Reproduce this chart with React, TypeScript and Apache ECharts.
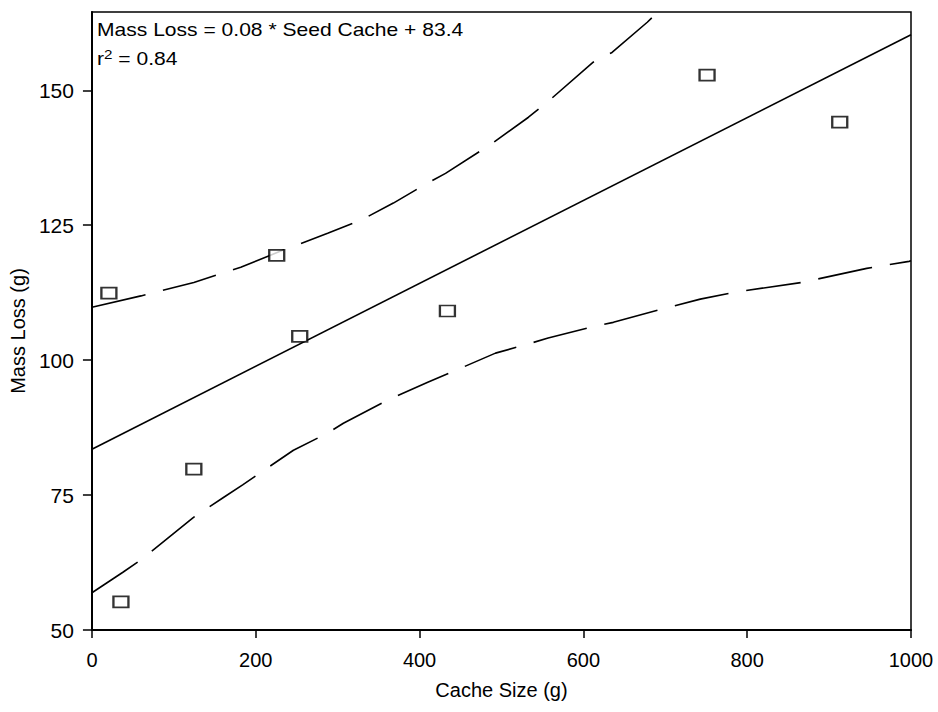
import React, { useEffect, useRef } from "react";
import * as echarts from "echarts";

const cacheSize = [20.7, 35.4, 124.4, 225.6, 253.7, 434, 751, 913];
const massLoss = [112.4, 55.2, 79.8, 119.4, 104.4, 109.1, 152.8, 144.1];

const fitLine: [number, number][] = [
  [0, 83.5],
  [1000, 160.3],
];

const upperBand: [number, number][] = [
  [0, 109.8], [59.8, 111.9], [124.4, 114.4], [181.7, 117.2], [230.5, 120.2],
  [287.8, 123.5], [328, 125.9], [368, 129.1], [409.8, 132.8], [431.7, 134.6],
  [489, 140.2], [533, 145], [556, 147.8], [612, 155.2], [635, 157],
  [678, 162.6], [700, 165.8],
];

const lowerBand: [number, number][] = [
  [0, 56.9], [37.8, 60.7], [59.8, 63], [124.4, 70.9], [161, 74.6], [184, 76.9],
  [246, 83.3], [288, 86.5], [307, 88.3], [361, 92.6], [410, 95.9], [450, 98.5],
  [492.7, 101.3], [535, 103.1], [557, 104.1], [614.6, 106.3], [636.6, 107],
  [694, 109.4], [742.7, 111.3], [785, 112.6], [867, 114.4], [946, 117],
  [997.6, 118.3], [1000, 118.4],
];

const xTicks = [0, 200, 400, 600, 800, 1000];
const yTicks = [50, 75, 100, 125, 150];

const FONT = "Liberation Sans, Arial, sans-serif";

export default function App() {
  const ref = useRef<HTMLDivElement>(null);
  useEffect(() => {
    if (!ref.current) return;
    const chart = echarts.init(ref.current, null, { renderer: "svg" });
    const dash = { type: [55, 18] as any, color: "#000", width: 1.6 };
    chart.setOption({
      animation: false,
      backgroundColor: "#fff",
      grid: {
        left: 91,
        right: 27,
        top: 12,
        bottom: 82,
        show: true,
        borderColor: "#000",
        borderWidth: 1.5,
        backgroundColor: "transparent",
      },
      xAxis: {
        type: "value",
        min: 0,
        max: 1000,
        interval: 200,
        name: "Cache Size (g)",
        nameLocation: "middle",
        nameGap: 50,
        nameTextStyle: { fontFamily: FONT, fontSize: 20, color: "#000" },
        axisLine: { show: true, lineStyle: { color: "#000", width: 2 } },
        axisTick: { show: true, length: 8, lineStyle: { color: "#000", width: 1.5 }, customValues: xTicks },
        axisLabel: {
          fontFamily: FONT,
          fontSize: 20,
          color: "#000",
          margin: 20,
          customValues: xTicks,
          formatter: (v: number) => String(v),
        },
        splitLine: { show: false },
      },
      yAxis: {
        type: "value",
        min: 50,
        max: 164.5,
        interval: 25,
        name: "Mass Loss (g)",
        nameLocation: "middle",
        nameGap: 60,
        nameTextStyle: { fontFamily: FONT, fontSize: 20, color: "#000", padding: [0, 20, 0, 0] },
        axisLine: { show: true, lineStyle: { color: "#000", width: 2 } },
        axisTick: { show: true, length: 9, lineStyle: { color: "#000", width: 1.5 }, customValues: yTicks },
        axisLabel: {
          fontFamily: FONT,
          fontSize: 21,
          color: "#000",
          margin: 18,
          customValues: yTicks,
          formatter: (v: number) => String(v),
        },
        splitLine: { show: false },
      },
      graphic: [
        {
          type: "text",
          x: 97,
          y: 21,
          scaleX: 1.17,
          style: {
            text: "Mass Loss = 0.08 * Seed Cache + 83.4",
            fontFamily: FONT,
            fontSize: 18,
            fill: "#000",
          },
        },
        {
          type: "text",
          x: 97,
          y: 48,
          scaleX: 1.17,
          style: {
            text: "r{sup|2} = 0.84",
            fontFamily: FONT,
            fontSize: 18,
            fill: "#000",
            rich: {
              sup: { fontFamily: FONT, fontSize: 13, verticalAlign: "top", padding: [0, 0, 8, 0] },
            },
          },
        },
      ],
      series: [
        {
          type: "line",
          data: fitLine,
          symbol: "none",
          lineStyle: { color: "#000", width: 1.6 },
          z: 2,
        },
        {
          type: "line",
          data: upperBand,
          symbol: "none",
          lineStyle: dash,
          z: 2,
        },
        {
          type: "line",
          data: lowerBand,
          symbol: "none",
          lineStyle: dash,
          z: 2,
        },
        {
          type: "scatter",
          data: cacheSize.map((x, i) => [x, massLoss[i]]),
          symbol: "rect",
          symbolSize: [15, 11],
          itemStyle: { color: "#fff", borderColor: "#000", borderWidth: 2 },
          z: 3,
        },
      ],
    });
    return () => chart.dispose();
  }, []);
  return <div ref={ref} style={{ width: 938, height: 712, position: "absolute", left: 0, top: 0 }} />;
}
